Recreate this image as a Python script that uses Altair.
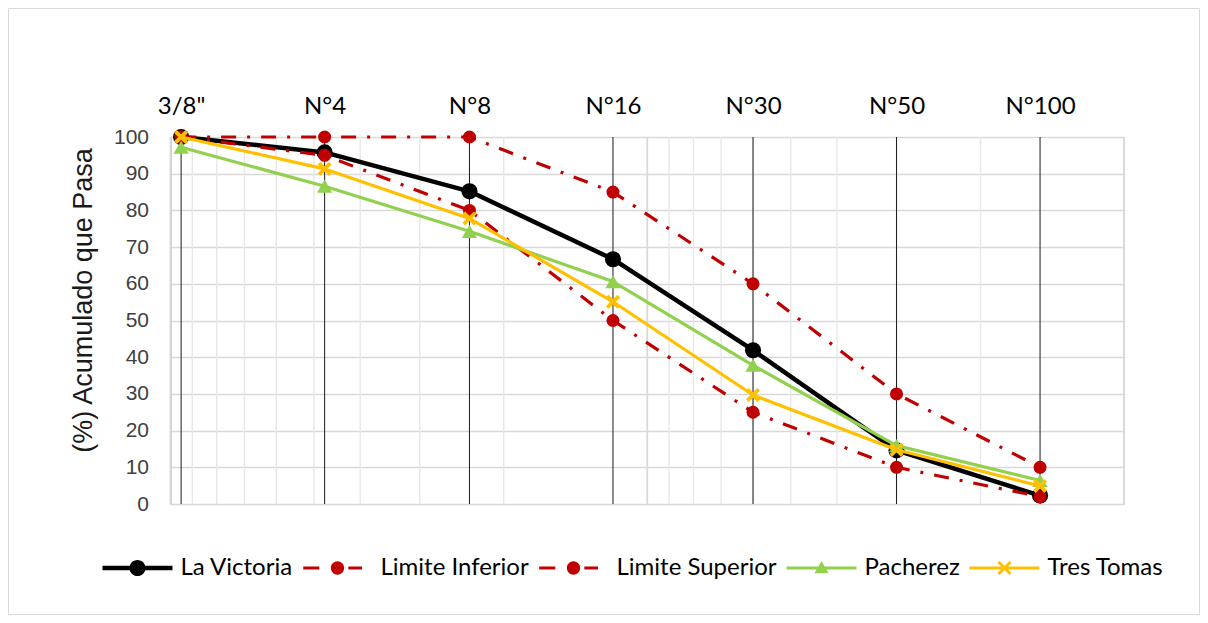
import altair as alt
import pandas as pd

# ---------------- data ----------------
sieves = ['3/8"', 'N°4', 'N°8', 'N°16', 'N°30', 'N°50', 'N°100']
openings_mm = [9.5, 4.75, 2.36, 1.18, 0.6, 0.3, 0.15]

series_names = ["La Victoria", "Limite Inferior", "Limite Superior", "Pacherez", "Tres Tomas"]
la_victoria = [100, 95.8, 85.2, 66.7, 41.9, 14.6, 2.3]
limite_inferior = [100, 95, 80, 50, 25, 10, 2]
limite_superior = [100, 100, 100, 85, 60, 30, 10]
pacherez = [97.2, 86.6, 74.3, 60.6, 37.8, 15.9, 6.4]
tres_tomas = [100, 91.3, 77.8, 55.1, 29.7, 14.8, 4.9]
values_by_series = [la_victoria, limite_inferior, limite_superior, pacherez, tres_tomas]

grid_major = [10, 1, 0.1]
grid_minor = [9, 8, 7, 6, 5, 4, 3, 2, 0.9, 0.8, 0.7, 0.6, 0.5, 0.4, 0.3, 0.2]
y_ticks = [0, 10, 20, 30, 40, 50, 60, 70, 80, 90, 100]

rows = []
for name, vals in zip(series_names, values_by_series):
    for s, mm, v in zip(sieves, openings_mm, vals):
        rows.append({"series": name, "sieve": s, "mm": mm, "pct": v})
df = pd.DataFrame(rows)

# ---------------- styles ----------------
colors = ["#000000", "#C00000", "#C00000", "#92D050", "#FFC000"]
line_widths = [4.5, 3.2, 3.2, 3.2, 3.2]
dashes = [None, [15, 11, 3, 11], [15, 11, 3, 11], None, None]
X_PATH = "M-1,-1L1,1M-1,1L1,-1"

# legend symbols (filled paths in the -1..1 box)
def seg(a, b, h):
    return f"M{a},{-h}H{b}V{h}H{a}Z"

def circ(r):
    return f"M{r},0A{r},{r} 0 1,1 {-r},0A{r},{r} 0 1,1 {r},0Z"

leg_paths = [
    seg(-1, -0.2, 0.064) + seg(0.2, 1, 0.064) + circ(0.23),
    seg(-0.98, -0.52, 0.045) + circ(0.19) + seg(0.31, 0.70, 0.045),
    seg(-0.98, -0.52, 0.045) + circ(0.19) + seg(0.31, 0.70, 0.045),
    seg(-1, 1, 0.045) + "M0,-0.2L0.2,0.15L-0.2,0.15Z",
    seg(-1, 1, 0.045) + "M-0.2,-0.14L-0.14,-0.2L0.2,0.14L0.14,0.2Z" + "M0.2,-0.14L-0.14,0.2L-0.2,0.14L0.14,-0.2Z",
]

label_expr = "{" + ",".join("'" + str(m) + "':'" + s + "'" for m, s in zip(openings_mm, sieves)) + "}[datum.value]"

xscale = alt.Scale(type="log", domain=[0.1, 10], reverse=True, nice=False, zero=False)
xaxis = alt.Axis(orient="top", values=openings_mm, labelExpr=label_expr, grid=False, ticks=False,
                 domain=False, labelFont="Lato", labelFontSize=24, labelColor="#000000",
                 labelPadding=19, labelOverlap=False, labelFlush=False, title=None)
x = alt.X("mm:Q", scale=xscale, axis=xaxis)

yaxis = alt.Axis(values=y_ticks, grid=True, gridColor="#d9d9d9", gridWidth=1.5, ticks=False,
                 domain=True, domainColor="#bfbfbf", domainWidth=1.5,
                 labelFont="Liberation Sans", labelFontSize=21, labelColor="#404040", labelPadding=22,
                 title="(%) Acumulado que Pasa", titleFont="Liberation Sans", titleFontSize=27,
                 titleFontWeight="normal", titleColor="#1a1a1a", titleX=-73, titleY=163)
y = alt.Y("pct:Q", scale=alt.Scale(domain=[0, 100], nice=False), axis=yaxis)

W, H = 953.5, 367

frame = alt.Chart(pd.DataFrame({"k": [0]})).mark_rect(fillOpacity=0, stroke="#d9d9d9", strokeWidth=1).encode(
    x=alt.value(-162), x2=alt.value(1029), y=alt.value(-128.5), y2=alt.value(477.5))

minor = alt.Chart(pd.DataFrame({"mm": grid_minor})).mark_rule(color="#e8e8e8", strokeWidth=1.4).encode(x=x)
major = alt.Chart(pd.DataFrame({"mm": grid_major})).mark_rule(color="#d9d9d9", strokeWidth=1.8).encode(x=x)
sieve_rules = alt.Chart(pd.DataFrame({"mm": openings_mm})).mark_rule(color="#1a1a1a", strokeWidth=1).encode(x=x)

layers = [frame, minor, major, sieve_rules]
for i, name in enumerate(series_names):
    d = df[df.series == name]
    lkw = dict(color=colors[i], strokeWidth=line_widths[i], strokeJoin="round")
    if dashes[i] is not None:
        lkw["strokeDash"] = dashes[i]
        lkw["strokeCap"] = "butt"
    else:
        lkw["strokeCap"] = "round"
    layers.append(alt.Chart(d).mark_line(**lkw).encode(x=x, y=y))
    if name == "La Victoria":
        pt = alt.Chart(d).mark_point(shape="circle", filled=True, color=colors[i], size=260, opacity=1)
    elif name.startswith("Limite"):
        pt = alt.Chart(d).mark_point(shape="circle", filled=True, color=colors[i], size=170, opacity=1)
    elif name == "Pacherez":
        pt = alt.Chart(d).mark_point(shape="triangle-up", filled=True, color=colors[i], size=230, opacity=1)
    else:
        pt = alt.Chart(d).mark_point(shape=X_PATH, filled=False, color=colors[i], size=130,
                                     strokeWidth=3.8, opacity=1)
    layers.append(pt.encode(x=x, y=y))

legend = alt.Legend(title=None, orient="none", legendX=-68, legendY=396, direction="horizontal",
                    symbolSize=4900, symbolStrokeWidth=0, symbolOpacity=1, labelFont="Lato",
                    labelFontSize=24, labelColor="#000000", labelOffset=8, columnPadding=9,
                    padding=0, labelLimit=400)
leg = alt.Chart(df).mark_point(filled=True, opacity=0, size=4900).encode(
    x=x, y=y,
    color=alt.Color("series:N", scale=alt.Scale(domain=series_names, range=colors), legend=legend),
    shape=alt.Shape("series:N", scale=alt.Scale(domain=series_names, range=leg_paths), legend=legend),
)
layers.append(leg)

chart = alt.layer(*layers).properties(
    width=W, height=H,
    autosize=alt.AutoSizeParams(type="none"),
    padding={"left": 162.5, "top": 129, "right": 76, "bottom": 111},
).configure_view(stroke=None).configure(background="white")

chart.save("out.html", embed_options={"renderer": "svg", "actions": False})
